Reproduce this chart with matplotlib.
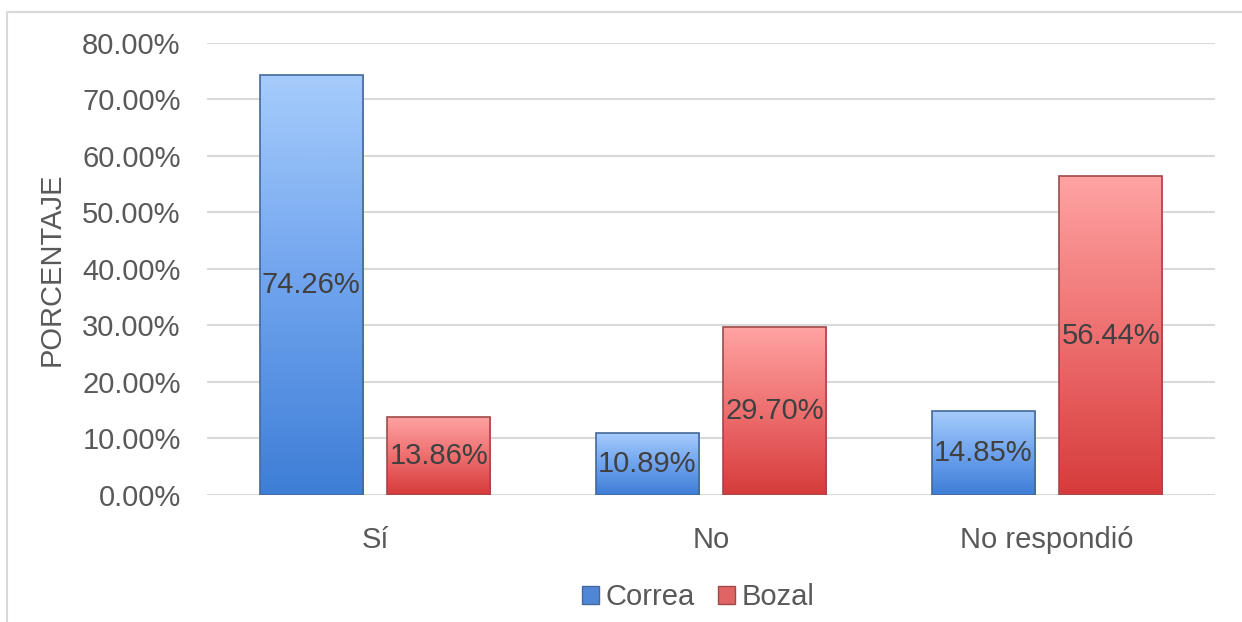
import numpy as np
import matplotlib.pyplot as plt
from matplotlib.colors import LinearSegmentedColormap
from matplotlib.patches import Patch, Rectangle
from matplotlib.ticker import FuncFormatter

categories = ["Sí", "No", "No respondió"]
correa = [74.26, 10.89, 14.85]
bozal = [13.86, 29.70, 56.44]
series_names = ["Correa", "Bozal"]

plt.rcParams["font.family"] = ["Liberation Sans", "DejaVu Sans"]

BLUE = LinearSegmentedColormap.from_list("blue", ["#3E7ED6", "#6FA3EE", "#A6CCFB"])
RED = LinearSegmentedColormap.from_list("red", ["#D63B3B", "#EE6F6F", "#FFA3A3"])


def gradient_bars(ax, xs, values, width, cmap, edge):
    bars = ax.bar(xs, values, width, color="none", edgecolor=edge, linewidth=1.2, zorder=3)
    grad = np.linspace(0, 1, 256).reshape(-1, 1)
    for bar in bars:
        x0, w, h = bar.get_x(), bar.get_width(), bar.get_height()
        im = ax.imshow(grad, cmap=cmap, origin="lower", aspect="auto",
                       extent=(x0, x0 + w, 0, h), zorder=2, interpolation="bicubic")
        im.set_clip_path(bar)
        ax.text(x0 + w / 2, h / 2, f"{h:.2f}%", ha="center", va="center",
                fontsize=21, color="#404040", zorder=4)
    return bars


fig = plt.figure(figsize=(12.42, 6.22), dpi=100)
fig.patches.append(Rectangle((7 / 1242, -0.05), 1.2, 1 - 12 / 622 + 0.05, transform=fig.transFigure,
                             fill=False, edgecolor="#D9D9D9", linewidth=1.5))
ax = fig.add_axes([0.1667, 0.2042, 0.8115, 0.7267])

x = np.arange(len(categories))
width = 0.307
offset = 0.19
gradient_bars(ax, x - offset, correa, width, BLUE, "#46689A")
gradient_bars(ax, x + offset, bozal, width, RED, "#9E4A4A")

ax.set_xlim(-0.5, len(categories) - 0.5)
ax.set_ylim(0, 80)
ax.set_yticks(np.arange(0, 81, 10))
ax.yaxis.set_major_formatter(FuncFormatter(lambda v, _: f"{v:.2f}%"))
ax.set_xticks(x)
ax.set_xticklabels(categories)
ax.tick_params(axis="both", length=0, labelsize=21, labelcolor="#595959")
ax.tick_params(axis="x", pad=22)
ax.tick_params(axis="y", pad=19)
ax.grid(axis="y", color="#D9D9D9", linewidth=1.5, zorder=0)
ax.set_axisbelow(True)
for side in ("top", "right", "left", "bottom"):
    ax.spines[side].set_visible(False)
ax.set_ylabel("PORCENTAJE", fontsize=21, color="#595959", labelpad=12)

handles = [Patch(facecolor="#4F86D6", edgecolor="#46689A"),
           Patch(facecolor="#E06464", edgecolor="#9E4A4A")]
fig.legend(handles, series_names, loc="center", bbox_to_anchor=(0.562, 0.04), ncol=2,
           frameon=False, fontsize=21, labelcolor="#595959", handlelength=0.6,
           handleheight=0.6, handletextpad=0.2, columnspacing=0.8)

fig.savefig("out.png", dpi=100)
